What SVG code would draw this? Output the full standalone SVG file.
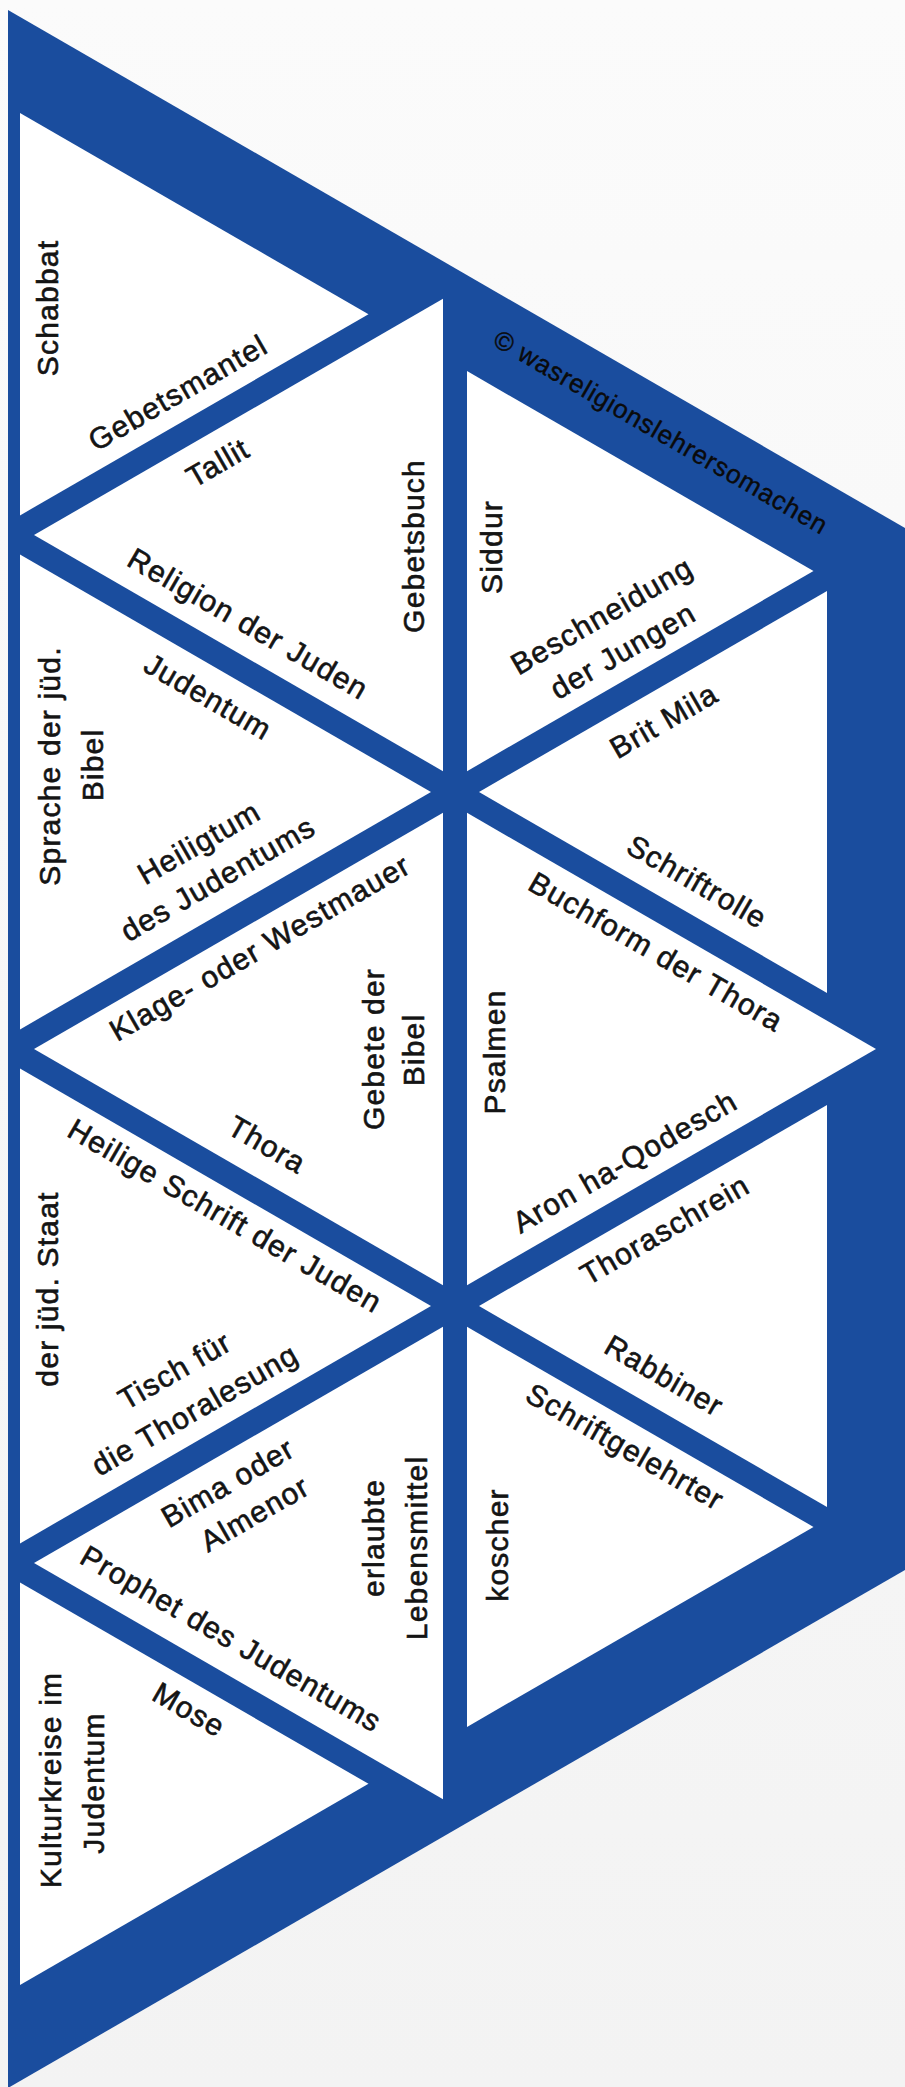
<svg xmlns="http://www.w3.org/2000/svg" width="905" height="2087" viewBox="0 0 905 2087">
<style>
.t{font-family:"Liberation Sans",Arial,sans-serif;font-size:30px;fill:#141414;stroke:#141414;stroke-width:0.6px;text-anchor:middle;letter-spacing:1.2px}
.w{font-size:26px;letter-spacing:0.9px;fill:#0a0a0a;stroke:#0a0a0a;stroke-width:0.4px}
.tri{fill:#ffffff}
</style>
<defs>
<linearGradient id="bg" x1="0" y1="0" x2="0" y2="1">
<stop offset="0" stop-color="#fbfbfb"/><stop offset="1" stop-color="#f3f3f3"/>
</linearGradient>
</defs>
<rect width="905" height="2087" fill="url(#bg)"/>
<g id="connectors">
<polygon points="8,10 905,528 905,1570 8,2088" fill="#1a4d9e"/>
<text class="t w" transform="translate(661,432) rotate(30)" y="9">© wasreligionslehrersomachen</text>
</g>
<g id="t-schabbat">
<polygon class="tri" points="20,113 20,515.4 368.5,314.2"/>
<text class="t" transform="translate(58,308) rotate(-90)">Schabbat</text>
<text class="t" transform="translate(178,393) rotate(-30)" y="10">Gebetsmantel</text>
</g>
<g id="t-tallit">
<polygon class="tri" points="443,298.8 443,771.2 34,535"/>
<text class="t" transform="translate(218,463) rotate(-30)" y="10">Tallit</text>
<text class="t" transform="translate(424,546) rotate(-90)">Gebetsbuch</text>
<text class="t" transform="translate(248,624) rotate(30)" y="10">Religion der Juden</text>
</g>
<g id="t-heiligtum">
<polygon class="tri" points="20,554.6 20,1029.4 431,792"/>
<text class="t" transform="translate(60,766) rotate(-90)">Sprache der jüd.</text>
<text class="t" transform="translate(103,765) rotate(-90)">Bibel</text>
<text class="t" transform="translate(208,697) rotate(30)" y="10">Judentum</text>
<text class="t" transform="translate(199,843) rotate(-30)" y="10">Heiligtum</text>
<text class="t" transform="translate(218,879) rotate(-30)" y="10">des Judentums</text>
</g>
<g id="t-klage">
<polygon class="tri" points="443,812.8 443,1285.2 34,1049"/>
<text class="t" transform="translate(260,948) rotate(-30)" y="10">Klage- oder Westmauer</text>
<text class="t" transform="translate(384,1049) rotate(-90)">Gebete der</text>
<text class="t" transform="translate(424,1050) rotate(-90)">Bibel</text>
<text class="t" transform="translate(267,1145) rotate(30)" y="10">Thora</text>
</g>
<g id="t-staat">
<polygon class="tri" points="20,1068.6 20,1543.4 431,1306"/>
<text class="t" transform="translate(225,1216) rotate(30)" y="10">Heilige Schrift der Juden</text>
<text class="t" transform="translate(58,1289) rotate(-90)">der jüd. Staat</text>
<text class="t" transform="translate(175,1371) rotate(-30)" y="10">Tisch für</text>
<text class="t" transform="translate(195,1410) rotate(-30)" y="10">die Thoralesung</text>
</g>
<g id="t-bima">
<polygon class="tri" points="443,1326.8 443,1799.2 34,1563"/>
<text class="t" transform="translate(228,1483) rotate(-30)" y="10">Bima oder</text>
<text class="t" transform="translate(255,1514) rotate(-30)" y="10">Almenor</text>
<text class="t" transform="translate(384,1538) rotate(-90)">erlaubte</text>
<text class="t" transform="translate(427,1548) rotate(-90)">Lebensmittel</text>
<text class="t" transform="translate(231,1639) rotate(30)" y="10">Prophet des Judentums</text>
</g>
<g id="t-kultur">
<polygon class="tri" points="20,1582.6 20,1985 368.5,1783.8"/>
<text class="t" transform="translate(61,1780) rotate(-90)">Kulturkreise im</text>
<text class="t" transform="translate(104,1783) rotate(-90)">Judentum</text>
<text class="t" transform="translate(189,1710) rotate(30)" y="10">Mose</text>
</g>
<g id="t-siddur">
<polygon class="tri" points="467,371.1 467,771.2 813.5,571.1"/>
<text class="t" transform="translate(502,547) rotate(-90)">Siddur</text>
<text class="t" transform="translate(602,616) rotate(-30)" y="10">Beschneidung</text>
<text class="t" transform="translate(623,651) rotate(-30)" y="10">der Jungen</text>
</g>
<g id="t-britmila">
<polygon class="tri" points="479,792 827,591.1 827,992.9"/>
<text class="t" transform="translate(664,721) rotate(-30)" y="10">Brit Mila</text>
<text class="t" transform="translate(697,882) rotate(30)" y="10">Schriftrolle</text>
</g>
<g id="t-psalmen">
<polygon class="tri" points="467,812.8 876,1049 467,1285.2"/>
<text class="t" transform="translate(656,952) rotate(30)" y="10">Buchform der Thora</text>
<text class="t" transform="translate(505,1052) rotate(-90)">Psalmen</text>
<text class="t" transform="translate(625,1162) rotate(-30)" y="10">Aron ha-Qodesch</text>
</g>
<g id="t-rabbiner">
<polygon class="tri" points="479,1306 827,1105.1 827,1506.9"/>
<text class="t" transform="translate(665,1230) rotate(-30)" y="10">Thoraschrein</text>
<text class="t" transform="translate(664,1376) rotate(30)" y="10">Rabbiner</text>
</g>
<g id="t-koscher">
<polygon class="tri" points="467,1326.8 467,1726.9 813.5,1526.9"/>
<text class="t" transform="translate(625,1447) rotate(30)" y="10">Schriftgelehrter</text>
<text class="t" transform="translate(508,1545) rotate(-90)">koscher</text>
</g>
</svg>
